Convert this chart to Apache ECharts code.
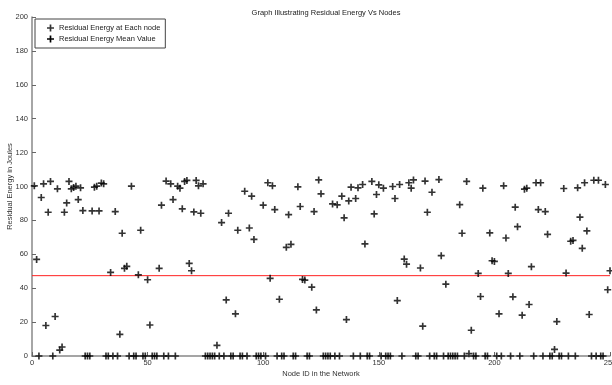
<!DOCTYPE html>
<html>
<head>
<meta charset="utf-8">
<script src="https://cdn.jsdelivr.net/npm/echarts@6/dist/echarts.min.js"></script>
<style>
    html, body {margin: 0; padding: 0; background: #fff;}
    #chart {width: 612px; height: 385px;}
</style>
</head>
<body>
<div id="chart"></div>
<script>
// residual energy of nodes 1..250
var energy = [
    100.4, 57, 0, 93.5, 101.6, 18, 84.8, 103, 0, 23.3,
    98.6, 3.5, 5.3, 84.8, 90.3, 103, 98.6, 99.4, 100.2, 92.3,
    99.2, 85.8, 0, 0, 0, 85.6, 99.6, 100.2, 85.6, 102,
    101.6, 0, 0, 49.3, 0, 85.2, 0, 12.8, 72.4, 51.7,
    52.9, 0, 100.2, 0, 0, 47.9, 74.2, 0, 0, 45,
    18.3, 0, 0, 0, 51.7, 89, 0, 103.2, 0, 101.6,
    92.3, 0, 100.2, 99, 86.8, 103, 103.6, 54.6, 50.3, 85,
    103.6, 100.4, 84.2, 101.6, 0, 0, 0, 0, 0, 6.3,
    0, 78.7, 0, 33.1, 84.2, 0, 0, 24.9, 74.2, 0,
    0, 97.2, 0, 75.5, 94.3, 68.8, 0, 0, 0, 89,
    0, 102.2, 45.8, 100.4, 86.4, 0, 33.5, 0, 0, 64.1,
    83.4, 65.9, 0, 0, 99.8, 88.2, 45.2, 44.8, 0, 0,
    40.6, 85.2, 27.2, 103.9, 95.7, 0, 0, 0, 0, 89.7,
    0, 89.2, 0, 94.3, 81.5, 21.5, 91.5, 99.6, 0, 92.9,
    99.2, 0, 101.2, 66.1, 0, 0, 103, 83.8, 95.3, 101,
    0, 99, 0, 0, 0, 100, 92.9, 32.7, 101.2, 0,
    57.2, 54.2, 102.2, 99, 103.9, 0, 0, 51.9, 17.6, 103.2,
    84.8, 0, 96.6, 0, 0, 104.1, 59.2, 0, 42.4, 0,
    0, 0, 0, 0, 89.3, 72.4, 0, 103, 1.4, 15.2,
    0, 0, 48.7, 35.1, 99, 0, 0, 72.6, 56.2, 55.8,
    0, 24.9, 0, 100.4, 69.6, 48.7, 0, 34.9, 87.8, 76.3,
    0, 24.1, 98.4, 99, 30.4, 52.7, 0, 102.2, 86.4, 102.2,
    0, 85.2, 71.8, 0, 0, 3.9, 20.3, 0, 0, 98.8,
    48.9, 0, 67.7, 68.2, 0, 99.2, 81.9, 63.5, 102.2, 73.8,
    24.5, 0, 103.7, 0, 103.7, 0, 0, 101.2, 39.1, 50.3
];
var meanEnergy = 47.4;
var meanRange = [0, 250];
var seriesNames = ['Residual Energy at Each node', 'Residual Energy Mean Value'];

var plus = 'path://M3.8,0H6.2V3.8H10V6.2H6.2V10H3.8V6.2H0V3.8H3.8Z';
var font = 'Liberation Sans';

var points = energy.map(function (v, i) {
    return [i + 1, v];
});

var chart = echarts.init(document.getElementById('chart'), null, {renderer: 'canvas'});
chart.setOption({
    animation: false,
    backgroundColor: '#fff',
    title: {
        text: 'Graph Illustrating Residual Energy Vs Nodes',
        left: 321,
        top: 4,
        textAlign: 'center',
        textStyle: {
            fontFamily: font,
            fontSize: 7.5,
            fontWeight: 'normal',
            color: '#222'
        }
    },
    legend: {
        orient: 'vertical',
        left: 35,
        top: 19,
        padding: [5, 5, 5, 12],
        itemGap: 3,
        itemWidth: 7,
        itemHeight: 7,
        borderColor: '#444',
        borderWidth: 1,
        backgroundColor: '#fff',
        textStyle: {
            fontFamily: font,
            fontSize: 7.5,
            color: '#222',
            padding: [0, 0, 0, 0]
        },
        data: [
            {name: seriesNames[0], icon: plus, itemStyle: {color: '#000'}},
            {name: seriesNames[1], icon: plus, itemStyle: {color: '#000'}, lineStyle: {width: 0}}
        ]
    },
    grid: {
        left: 32,
        right: 2,
        top: 17,
        bottom: 29,
        containLabel: false,
        outerBoundsMode: 'none'
    },
    xAxis: {
        type: 'value',
        min: 0,
        max: 250,
        interval: 50,
        name: 'Node ID in the Network',
        nameLocation: 'middle',
        nameGap: 14,
        nameMoveOverlap: false,
        nameTextStyle: {
            fontFamily: font,
            fontSize: 7.5,
            color: '#333'
        },
        axisLine: {
            lineStyle: {
                color: '#888',
                width: 1.5
            }
        },
        axisTick: {
            inside: true,
            length: 4,
            lineStyle: {
                color: '#666'
            }
        },
        axisLabel: {
            fontFamily: font,
            fontSize: 7.5,
            color: '#333',
            margin: 3
        },
        splitLine: {
            show: false
        }
    },
    yAxis: {
        type: 'value',
        min: 0,
        max: 200,
        interval: 20,
        name: 'Residual Energy in Joules',
        nameLocation: 'middle',
        nameGap: 18,
        nameMoveOverlap: false,
        nameTextStyle: {
            fontFamily: font,
            fontSize: 7.5,
            color: '#333'
        },
        axisLine: {
            lineStyle: {
                color: '#888',
                width: 1.5
            }
        },
        axisTick: {
            inside: true,
            length: 4,
            lineStyle: {
                color: '#666'
            }
        },
        axisLabel: {
            fontFamily: font,
            fontSize: 7.5,
            color: '#333',
            margin: 4
        },
        splitLine: {
            show: false
        }
    },
    series: [
        {
            name: seriesNames[0],
            type: 'scatter',
            symbol: plus,
            symbolSize: 7,
            itemStyle: {
                color: '#000'
            },
            data: points,
            z: 3
        },
        {
            name: seriesNames[1],
            type: 'line',
            showSymbol: false,
            symbol: 'none',
            lineStyle: {
                color: '#ff2020',
                width: 1
            },
            itemStyle: {
                color: '#ff2020'
            },
            data: [[meanRange[0], meanEnergy], [meanRange[1], meanEnergy]],
            z: 2
        }
    ]
});
</script>
</body>
</html>
